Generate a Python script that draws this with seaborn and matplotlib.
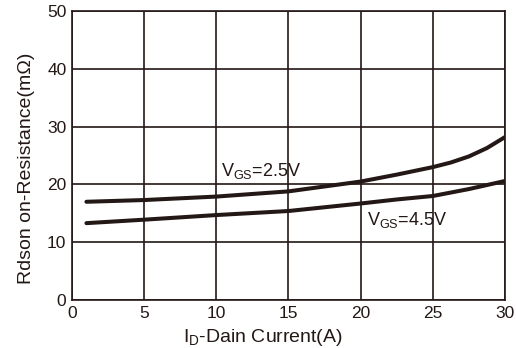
import numpy as np
import pandas as pd
import seaborn as sns
import matplotlib.pyplot as plt

# values
current = [1, 5, 10, 15, 20, 22.5, 25, 26.25, 27.5, 28.75, 30]
rds_25v = [17.0, 17.3, 17.9, 18.8, 20.5, 21.7, 23.0, 23.8, 24.85, 26.3, 28.2]
rds_45v = [13.3, 13.9, 14.7, 15.4, 16.7, 17.4, 18.0, 18.6, 19.2, 19.9, 20.6]
x_ticks = [0, 5, 10, 15, 20, 25, 30]
y_ticks = [0, 10, 20, 30, 40, 50]

ink = '#231815'

df = pd.DataFrame({
    'current': current * 2,
    'rds': rds_25v + rds_45v,
    'vgs': ['2.5V'] * len(current) + ['4.5V'] * len(current),
})

sns.set_style('white')
plt.rcParams['font.family'] = ['Liberation Sans', 'DejaVu Sans']
plt.rcParams['mathtext.fontset'] = 'custom'
plt.rcParams['mathtext.rm'] = 'Liberation Sans'

fig = plt.figure(figsize=(5.16, 3.48), dpi=100)
ax = fig.add_axes([0.1395, 0.138, 0.8392, 0.830])

sns.lineplot(data=df, x='current', y='rds', hue='vgs',
             palette=[ink, ink], linewidth=2.9, legend=False, ax=ax)

ax.set_xlim(0, 30)
ax.set_ylim(0, 50)
ax.set_xticks(x_ticks)
ax.set_yticks(y_ticks)
ax.grid(True, color=ink, linewidth=1.2)
for s in ax.spines.values():
    s.set_color(ink)
    s.set_linewidth(1.2)
ax.tick_params(length=0, pad=4, labelsize=12.5, colors=ink)

ax.text(10.35, 21.4, r'$\mathregular{V_{GS}}$=2.5V', fontsize=13, color=ink)
ax.text(20.45, 13.0, r'$\mathregular{V_{GS}}$=4.5V', fontsize=13, color=ink)

# axis labels are larger and sit a bit off-centre in the original
ax.set_xlabel(r'$\mathregular{I_D}$-Dain Current(A)', fontsize=14, color=ink)
ax.set_ylabel('Rdson on-Resistance(mΩ)', fontsize=14, color=ink)
ax.xaxis.set_label_coords(0.441, -0.092)
ax.yaxis.set_label_coords(-0.085, 0.457)

fig.savefig('out.png', dpi=100)
